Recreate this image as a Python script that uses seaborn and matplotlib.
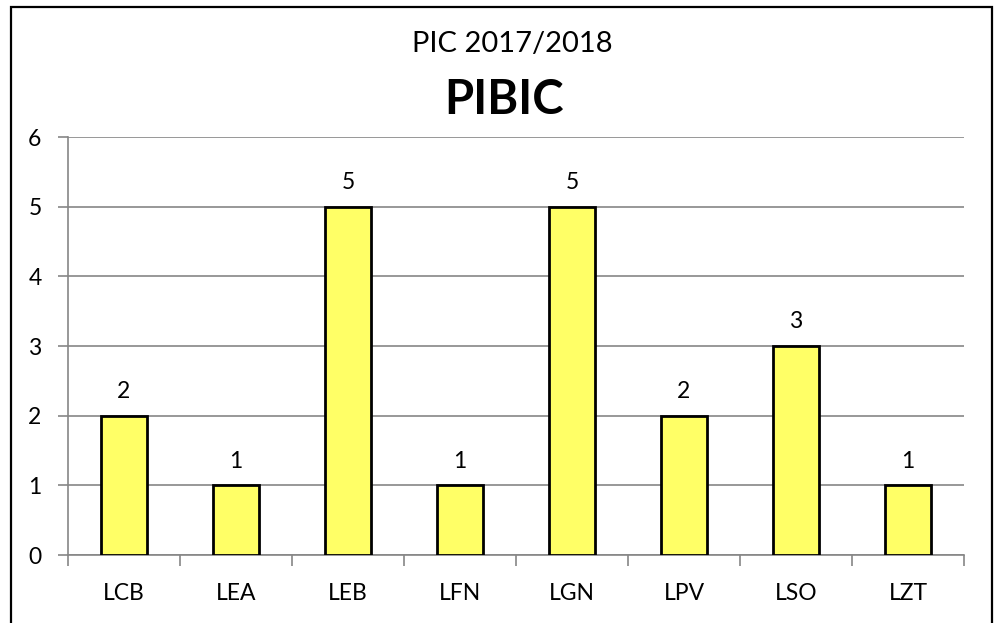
"""
PIC 2017/2018 - PIBIC bar chart
"""

import numpy as np
import pandas as pd
import seaborn as sns
import matplotlib.pyplot as plt
from matplotlib.patches import Rectangle

# Data
labs = ["LCB", "LEA", "LEB", "LFN", "LGN", "LPV", "LSO", "LZT"]
counts = [2, 1, 5, 1, 5, 2, 3, 1]
y_ticks = [0, 1, 2, 3, 4, 5, 6]
title_top = "PIC 2017/2018"
title_main = "PIBIC"

df = pd.DataFrame({"lab": labs, "count": counts})

sns.set_style("white")
plt.rcParams["font.family"] = ["Lato", "DejaVu Sans"]

fig = plt.figure(figsize=(10, 6.23), dpi=100)
ax = fig.add_axes([0.068, 0.109, 0.896, 0.671])

sns.barplot(data=df, x="lab", y="count", color="#FFFF66", edgecolor="black",
            linewidth=2, width=0.41, saturation=1, ax=ax, zorder=3)

# Value labels above the bars
for container in ax.containers:
    ax.bar_label(container, labels=[str(v) for v in counts], padding=10,
                 fontsize=16.5, color="black")

# Axes styling
ax.set_ylim(0, 6)
ax.set_xlim(-0.5, len(labs) - 0.5)
ax.set_yticks(y_ticks)
ax.set_xlabel("")
ax.set_ylabel("")
ax.grid(axis="y", color="#868686", linewidth=1.2, zorder=0)
ax.grid(axis="x", visible=False)
for side in ["top", "right"]:
    ax.spines[side].set_visible(False)
for side in ["left", "bottom"]:
    ax.spines[side].set_color("#868686")
    ax.spines[side].set_linewidth(1.2)

ax.tick_params(axis="y", which="major", direction="out", length=7, width=1.2,
               color="#868686", labelsize=16.5, labelcolor="black", pad=12, left=True)
ax.tick_params(axis="x", which="major", length=0, labelsize=16.5,
               labelcolor="black", pad=20)
ax.set_xticks(np.arange(-0.5, len(labs), 1), minor=True)
ax.tick_params(axis="x", which="minor", direction="out", length=8, width=1.2,
               color="#868686", bottom=True)

# Titles
fig.text(0.512, 0.930, title_top, ha="center", va="center", fontsize=21,
         color="black")
fig.text(0.504, 0.840, title_main, ha="center", va="center", fontsize=34,
         fontweight="bold", color="black")

# Outer chart border
fig.patches.append(Rectangle((0.011, -0.02), 0.981, 1.009, transform=fig.transFigure,
                             fill=False, edgecolor="black", linewidth=1.6))

fig.savefig("out.png", dpi=100)
